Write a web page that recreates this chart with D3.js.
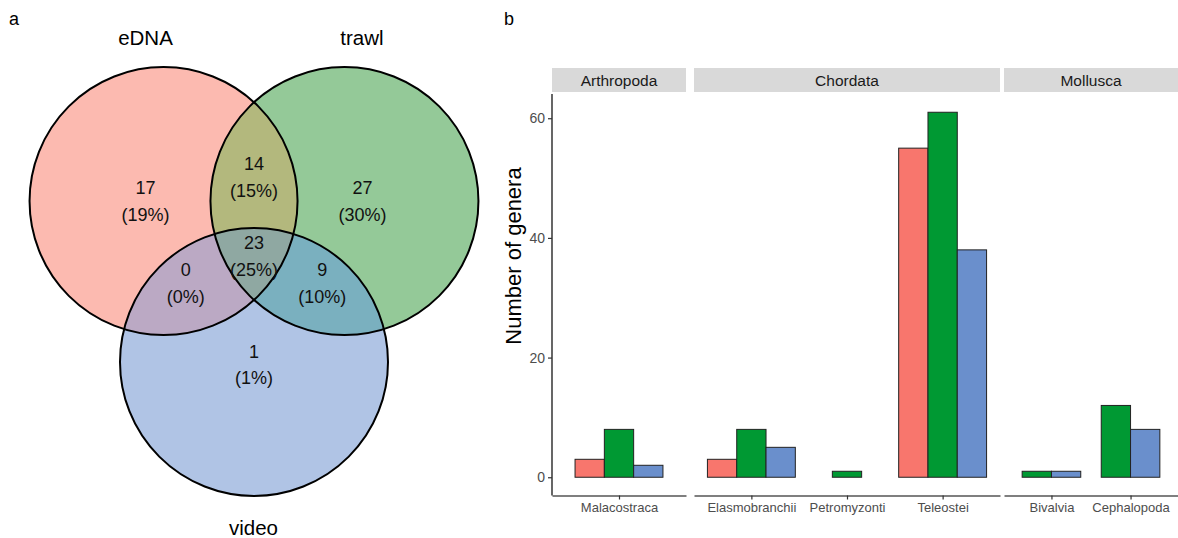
<!DOCTYPE html>
<html>
<head>
<meta charset="utf-8">
<script src="https://cdn.jsdelivr.net/npm/d3@7"></script>
<style>
  body { margin: 0; background: #fff; }
  svg { font-family: "Liberation Sans", Arial, sans-serif; }
</style>
</head>
<body>
<div id="chart"></div>
<script>
// ---- data ----
// venn (panel a)
const setNames = ["eDNA", "trawl", "video"];
const vennRegions = ["eDNA", "trawl", "video", "eDNA&trawl", "eDNA&video", "trawl&video", "eDNA&trawl&video"];
const vennCounts = [17, 27, 1, 14, 0, 9, 23];

// bars (panel b)
const phyla = ["Arthropoda", "Chordata", "Mollusca"];
const classes = ["Malacostraca", "Elasmobranchii", "Petromyzonti", "Teleostei", "Bivalvia", "Cephalopoda"];
const classPhylum = ["Arthropoda", "Chordata", "Chordata", "Chordata", "Mollusca", "Mollusca"];
const methods = ["eDNA", "trawl", "video"];
const eDNAValues = [3, 3, 0, 55, 0, 0];
const trawlValues = [8, 8, 1, 61, 1, 12];
const videoValues = [2, 5, 0, 38, 1, 8];
const yTicks = [0, 20, 40, 60];

// ---- layout ----
const width = 1178, height = 538;
const svg = d3.select("#chart").append("svg")
  .attr("width", width).attr("height", height);

// venn layout in circle-radius units
const vennLayout = {
  eDNA: [-0.675, -0.6], trawl: [0.675, -0.6], video: [0, 0.6]
};
const labelLayout = {
  "eDNA": [-0.81, -0.6], "trawl": [0.81, -0.6], "video": [0, 0.62],
  "eDNA&trawl": [0, -0.78], "eDNA&video": [-0.51, 0.01],
  "trawl&video": [0.51, 0.01], "eDNA&trawl&video": [0, -0.19]
};
const regionFill = {
  "eDNA": "#FCBAB0", "trawl": "#94C998", "video": "#B0C4E5",
  "eDNA&trawl": "#B3B87D", "eDNA&video": "#BBA9C4",
  "trawl&video": "#7AB0BF", "eDNA&trawl&video": "#8FA8A2"
};
const R = 134;
const vx = d3.scaleLinear().domain([-1, 1]).range([254 - R, 254 + R]);
const vy = d3.scaleLinear().domain([-1, 1]).range([281.5 - R, 281.5 + R]);

const defs = svg.append("defs");
setNames.forEach(function(s) {
  defs.append("clipPath").attr("id", "clip-" + s)
    .append("circle")
    .attr("cx", vx(vennLayout[s][0]))
    .attr("cy", vy(vennLayout[s][1]))
    .attr("r", R);
});

const venn = svg.append("g");

function circleFor(g, s, fill) {
  return g.append("circle")
    .attr("cx", vx(vennLayout[s][0]))
    .attr("cy", vy(vennLayout[s][1]))
    .attr("r", R)
    .attr("fill", fill);
}

// fill each region: last set in the key is drawn, clipped by the others
vennRegions.forEach(function(key) {
  const parts = key.split("&");
  let g = venn;
  for (let i = 0; i < parts.length - 1; i++) {
    g = g.append("g").attr("clip-path", "url(#clip-" + parts[i] + ")");
  }
  circleFor(g, parts[parts.length - 1], regionFill[key]);
});

// outlines
setNames.forEach(function(s) {
  circleFor(venn, s, "none").attr("stroke", "#000").attr("stroke-width", 2);
});

// region labels
const total = d3.sum(vennCounts);
vennRegions.forEach(function(key, i) {
  const px = vx(labelLayout[key][0]), py = vy(labelLayout[key][1]);
  const pct = Math.round(vennCounts[i] / total * 100);
  venn.append("text").attr("x", px).attr("y", py - 13.3 + 6.5)
    .attr("text-anchor", "middle").attr("font-size", 18).attr("fill", "#111")
    .text(vennCounts[i]);
  venn.append("text").attr("x", px).attr("y", py + 13.3 + 6.5)
    .attr("text-anchor", "middle").attr("font-size", 18).attr("fill", "#111")
    .text("(" + pct + "%)");
});

// set names
const setLabelPos = { eDNA: [145.5, 45], trawl: [362, 45], video: [253.5, 535] };
setNames.forEach(function(s) {
  venn.append("text").attr("x", setLabelPos[s][0]).attr("y", setLabelPos[s][1])
    .attr("text-anchor", "middle").attr("font-size", 20.5).attr("fill", "#000")
    .text(s);
});

// panel letters
svg.append("text").attr("x", 9).attr("y", 25).attr("font-size", 18).text("a");
svg.append("text").attr("x", 504).attr("y", 25).attr("font-size", 18).text("b");

// ---- bar chart ----
const methodColor = d3.scaleOrdinal().domain(methods).range(["#F8766D", "#009933", "#6A8FCC"]);
const valuesByMethod = { eDNA: eDNAValues, trawl: trawlValues, video: videoValues };

const panelTop = 94, panelBottom = 495.5, stripTop = 68, stripBottom = 92;
const panelX = { Arthropoda: [552, 686], Chordata: [694, 1000], Mollusca: [1004, 1178] };
const barW = 29.3;

const y = d3.scaleLinear().domain([-3.05, 64.05]).range([panelBottom, panelTop]);

phyla.forEach(function(ph) {
  const cats = classes.filter(function(c, i) { return classPhylum[i] === ph; });
  const x = d3.scalePoint().domain(cats).range(panelX[ph]).padding(0.6);
  const g = svg.append("g");

  // strip
  g.append("rect")
    .attr("x", panelX[ph][0]).attr("y", stripTop)
    .attr("width", panelX[ph][1] - panelX[ph][0]).attr("height", stripBottom - stripTop)
    .attr("fill", "#D9D9D9");
  g.append("text")
    .attr("x", (panelX[ph][0] + panelX[ph][1]) / 2).attr("y", stripBottom - 6.5)
    .attr("text-anchor", "middle").attr("font-size", 15.5).attr("fill", "#1A1A1A")
    .text(ph);

  // bars, dodged among the methods present in each class
  cats.forEach(function(c) {
    const ci = classes.indexOf(c);
    const present = methods.filter(function(m) { return valuesByMethod[m][ci] > 0; });
    const inner = d3.scaleBand().domain(present)
      .range([x(c) - present.length * barW / 2, x(c) + present.length * barW / 2]);
    g.selectAll(null).data(present).enter().append("rect")
      .attr("x", function(m) { return inner(m); })
      .attr("y", function(m) { return y(valuesByMethod[m][ci]); })
      .attr("width", inner.bandwidth())
      .attr("height", function(m) { return y(0) - y(valuesByMethod[m][ci]); })
      .attr("fill", function(m) { return methodColor(m); })
      .attr("stroke", "#222")
      .attr("stroke-width", 1);
  });

  // x axis
  const xa = g.append("g").attr("transform", "translate(0," + panelBottom + ")")
    .call(d3.axisBottom(x).tickSize(4).tickSizeOuter(0).tickPadding(3));
  xa.select(".domain").attr("stroke", "#000").attr("stroke-width", 1.2);
  xa.selectAll(".tick line").attr("stroke", "#333").attr("stroke-width", 1.2);
  xa.selectAll(".tick text").attr("fill", "#4D4D4D").attr("font-size", 13)
    .attr("font-family", "Liberation Sans, Arial, sans-serif");
});

// y axis on the first panel
const ya = svg.append("g").attr("transform", "translate(" + panelX.Arthropoda[0] + ",0)")
  .call(d3.axisLeft(y).tickValues(yTicks).tickSize(4).tickSizeOuter(0).tickPadding(3));
ya.select(".domain").attr("stroke", "#000").attr("stroke-width", 1.2)
  .attr("d", "M0," + panelTop + "V" + panelBottom);
ya.selectAll(".tick line").attr("stroke", "#333").attr("stroke-width", 1.2);
ya.selectAll(".tick text").attr("fill", "#4D4D4D").attr("font-size", 14)
  .attr("font-family", "Liberation Sans, Arial, sans-serif");

svg.append("text")
  .attr("transform", "translate(521,256) rotate(-90)")
  .attr("text-anchor", "middle").attr("font-size", 22).attr("fill", "#000")
  .text("Number of genera");
</script>
</body>
</html>
